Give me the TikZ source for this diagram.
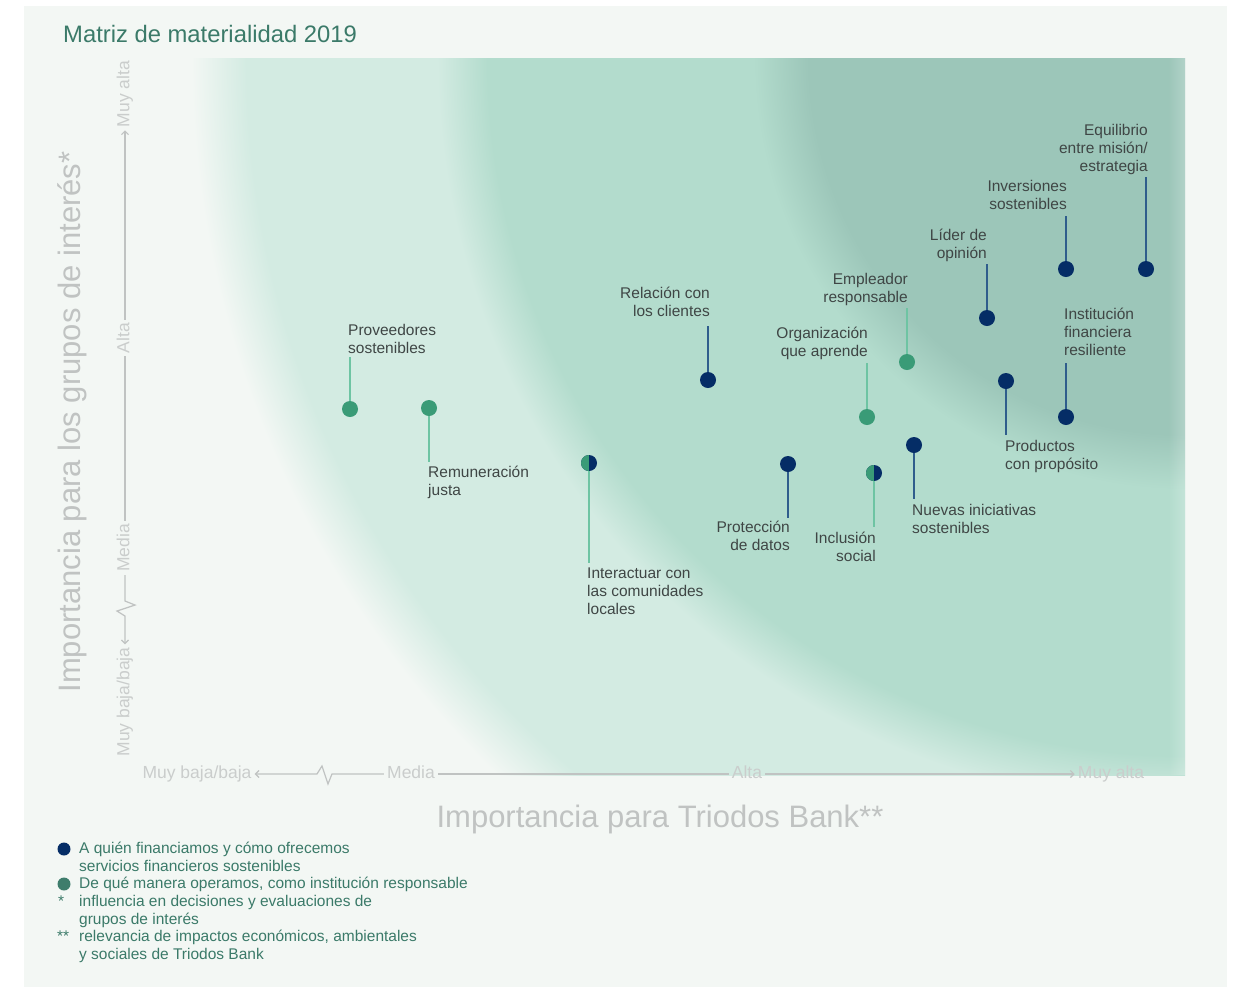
\documentclass[tikz,border=0pt]{standalone}
\usepackage{fontspec}
\setmainfont{Liberation Sans}
\usetikzlibrary{arrows.meta,fadings}
\definecolor{panel}{HTML}{F3F7F4}
\definecolor{zdark}{HTML}{9CC6B9}
\definecolor{zmid}{HTML}{B3DCCD}
\definecolor{zlight}{HTML}{D3EBE2}
\definecolor{navy}{HTML}{052D66}
\definecolor{dgreen}{HTML}{3A9B77}
\definecolor{legreen}{HTML}{3E7D6C}
\definecolor{navyline}{HTML}{2F5D8C}
\definecolor{greenline}{HTML}{6EC4A3}
\definecolor{axisgray}{HTML}{CACDCC}
\definecolor{titlegreen}{HTML}{3B7A69}
\definecolor{labgray}{HTML}{3F4645}
\pgfdeclareradialshading{matshade}{\pgfpoint{0bp}{0bp}}{color(0bp)=(zdark); color(375bp)=(zdark); color(430bp)=(zmid); color(695bp)=(zmid); color(745bp)=(zlight); color(935bp)=(zlight); color(990bp)=(panel); color(1260bp)=(panel)}
\tikzfading[name=fadeleft, left color=transparent!100, right color=transparent!0]

\begin{document}
\begin{tikzpicture}[x=1pt,y=-1pt,
    dot/.style={circle,inner sep=0pt,minimum size=16pt},
    navydot/.style={dot,fill=navy},
    greendot/.style={dot,fill=dgreen},
    halfdot/.style={dot,fill=navy,path picture={\fill[dgreen] (path picture bounding box.south west) rectangle (path picture bounding box.north);}},
    lab/.style={inner xsep=0pt,inner ysep=4pt,text=labgray,font=\fontsize{15.5}{18}\selectfont},
    labl/.style={lab,align=left},
    labr/.style={lab,align=right},
    navystem/.style={navyline,line width=1.6pt},
    greenstem/.style={greenline,line width=1.6pt},
    tick/.style={text=axisgray,font=\fontsize{17.5}{20}\selectfont,inner sep=3pt,text height=12pt,text depth=3.5pt},
    axis/.style={draw=axisgray!95!black,line width=1.2pt},
    tip/.style={-{Straight Barb[length=3.5pt,width=7pt]}},
    axtitle/.style={text=axisgray!95!black,font=\fontsize{31}{36}\selectfont},
    legdot/.style={circle,inner sep=0pt,minimum size=13pt},
    legtext/.style={inner sep=0pt,align=left,text=titlegreen,font=\fontsize{15.5}{17.8}\selectfont}]
\useasboundingbox (0,0) rectangle (1240,989);
\fill[white] (0,0) rectangle (1240,989);
\fill[panel] (24,6) rectangle (1227,987);
% zones
\begin{scope}
  \clip (120,58) rectangle (1185,775);
  \node[inner sep=0pt] (zones) at (1185,58) {\pgfuseshading{matshade}};
  \fill[white,opacity=0.22,path fading=fadeleft] (1168,58) rectangle (1185,775);
\end{scope}
\node[anchor=base west,inner sep=0pt,text=titlegreen,font=\fontsize{23.8}{28}\selectfont] (title) at (63,42.5) {Matriz de materialidad 2019};
% x axis
\node[tick] (xlow) at (197,774) {Muy baja/baja};
\node[tick] (xmed) at (411,774) {Media};
\node[tick] (xalta) at (747,774) {Alta};
\node[tick] (xhigh) at (1111,774) {Muy alta};
\draw[axis,tip] (xmed.west) -- ++(-52,0) -- ++(-4,10) -- ++(-6,-18) -- ++(-5,8) -- (xlow.east);
\draw[axis] (xmed.east) -- (xalta.west);
\draw[axis,tip] (xalta.east) -- (xhigh.west);
% y axis
\node[tick,rotate=90] (yhigh) at (125,94) {Muy alta};
\node[tick,rotate=90] (yalta) at (125,338) {Alta};
\node[tick,rotate=90] (ymed) at (125,548) {Media};
\node[tick,rotate=90] (ylow) at (125,702) {Muy baja/baja};
\draw[axis,tip] (ymed.west) -- ++(0,26) -- ++(10,4) -- ++(-18,6) -- ++(8,5) -- (ylow.east);
\draw[axis] (ymed.east) -- (yalta.west);
\draw[axis,tip] (yalta.east) -- (yhigh.west);
\node[axtitle] (xtitle) at (660,819) {Importancia para Triodos Bank**};
\node[axtitle,rotate=90] (ytitle) at (72,422) {Importancia para los grupos de interés*};
% green topics
\node[greendot] (prov) at (350,409) {};
\node[labl,inner ysep=3pt,anchor=south west] (provlab) at (348,357) {Proveedores\\sostenibles};
\draw[greenstem] (prov) -- (prov |- provlab.south);
\node[greendot] (remu) at (429,408) {};
\node[labl,anchor=north west] (remulab) at (428,462) {Remuneración\\justa};
\draw[greenstem] (remu) -- (remu |- remulab.north);
\node[halfdot] (inter) at (589,463) {};
\node[labl,inner ysep=5pt,anchor=north west] (interlab) at (587,563) {Interactuar con\\las comunidades\\locales};
\draw[greenstem] (inter) -- (inter |- interlab.north);
\node[greendot] (org) at (867,417) {};
\node[labr,inner ysep=3pt,anchor=south east] (orglab) at (868,363) {Organización\\que aprende};
\draw[greenstem] (org) -- (org |- orglab.south);
\node[halfdot] (incl) at (874,473) {};
\node[labr,inner ysep=5pt,anchor=north east] (incllab) at (876,527) {Inclusión\\social};
\draw[greenstem] (incl) -- (incl |- incllab.north);
\node[greendot] (empl) at (907,362) {};
\node[labr,inner ysep=2pt,anchor=south east] (empllab) at (908,308) {Empleador\\responsable};
\draw[greenstem] (empl) -- (empl |- empllab.south);
% navy topics
\node[navydot] (rel) at (708,380) {};
\node[labr,inner ysep=9pt,anchor=south east] (rellab) at (710,326) {Relación con\\los clientes};
\draw[navystem] (rel) -- (rel |- rellab.south);
\node[navydot] (prot) at (788,464) {};
\node[labr,inner ysep=3pt,anchor=north east] (protlab) at (790,518) {Protección\\de datos};
\draw[navystem] (prot) -- (prot |- protlab.north);
\node[navydot] (nuev) at (914,445) {};
\node[labl,inner ysep=5pt,anchor=north west] (nuevlab) at (912,499) {Nuevas iniciativas\\sostenibles};
\draw[navystem] (nuev) -- (nuev |- nuevlab.north);
\node[navydot] (lider) at (987,318) {};
\node[labr,inner ysep=2.5pt,anchor=south east] (liderlab) at (987,264) {Líder de\\opinión};
\draw[navystem] (lider) -- (lider |- liderlab.south);
\node[navydot] (prod) at (1006,381) {};
\node[labl,inner ysep=5pt,anchor=north west] (prodlab) at (1005,435) {Productos\\con propósito};
\draw[navystem] (prod) -- (prod |- prodlab.north);
\node[navydot] (inv) at (1066,269) {};
\node[labr,inner ysep=6pt,anchor=south east] (invlab) at (1067,216) {Inversiones\\sostenibles};
\draw[navystem] (inv) -- (inv |- invlab.south);
\node[navydot] (inst) at (1066,417) {};
\node[labl,inner ysep=7pt,anchor=south west] (instlab) at (1064,363) {Institución\\financiera\\resiliente};
\draw[navystem] (inst) -- (inst |- instlab.south);
\node[navydot] (equi) at (1146,269) {};
\node[labr,inner ysep=2.5pt,anchor=south east] (equilab) at (1148,177) {Equilibrio\\entre misión/\\estrategia};
\draw[navystem] (equi) -- (equi |- equilab.south);
% legend
\node[legdot,fill=navy] (key1) at (64,849) {};
\node[legtext,anchor=north west] (key1lab) at (79,842) {A quién financiamos y cómo ofrecemos\\servicios financieros sostenibles};
\node[legdot,fill=legreen] (key2) at (64,884) {};
\node[legtext,anchor=north west] (key2lab) at (79,877) {De qué manera operamos, como institución responsable};
\node[legtext,anchor=north west] (key3) at (58,896) {*};
\node[legtext,anchor=north west] (key3lab) at (79,895) {influencia en decisiones y evaluaciones de\\grupos de interés};
\node[legtext,anchor=north west] (key4) at (57,931) {**};
\node[legtext,anchor=north west] (key4lab) at (79,930) {relevancia de impactos económicos, ambientales\\y sociales de Triodos Bank};
\end{tikzpicture}
\end{document}
